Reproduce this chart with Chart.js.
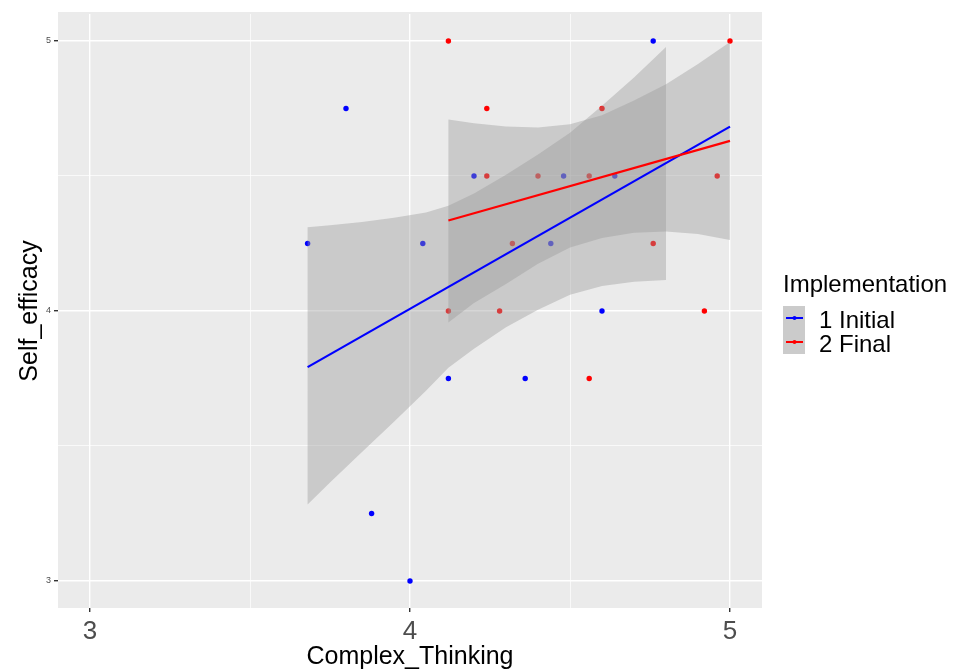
<!DOCTYPE html>
<html>
<head>
<meta charset="utf-8">
<script src="https://cdn.jsdelivr.net/npm/chart.js@4.4.1/dist/chart.umd.min.js"></script>
<style>
  html, body { margin: 0; padding: 0; background: #ffffff; }
  #wrap { width: 967px; height: 670px; position: relative; }
</style>
</head>
<body>
<div id="wrap"><canvas id="chart" width="967" height="670"></canvas></div>
<script>
// scatter points
const initialX = [4.76, 3.8, 4.2, 4.48, 4.64, 3.68, 4.04, 4.44, 4.6, 4.12, 4.36, 3.88, 4.0];
const initialY = [5, 4.75, 4.5, 4.5, 4.5, 4.25, 4.25, 4.25, 4, 3.75, 3.75, 3.25, 3];
const finalX = [4.12, 5.0, 4.24, 4.6, 4.24, 4.4, 4.56, 4.96, 4.32, 4.76, 4.12, 4.28, 4.92, 4.56];
const finalY = [5, 5, 4.75, 4.75, 4.5, 4.5, 4.5, 4.5, 4.25, 4.25, 4, 4, 4, 3.75];

// fitted lines (ends)
const initialFitX = [3.68, 5.0];
const initialFitY = [3.792, 4.683];
const finalFitX = [4.12, 5.0];
const finalFitY = [4.335, 4.63];

// confidence ribbons
const initialBandX = [3.68, 3.75, 3.85, 3.95, 4.05, 4.12, 4.2, 4.3, 4.4, 4.5, 4.6, 4.7, 4.8];
const initialBandHigh = [4.31, 4.318, 4.33, 4.345, 4.365, 4.39, 4.435, 4.505, 4.58, 4.66, 4.76, 4.865, 4.978];
const initialBandLow = [3.283, 3.365, 3.478, 3.59, 3.705, 3.79, 3.86, 3.94, 4.005, 4.06, 4.093, 4.108, 4.115];
const finalBandX = [4.12, 4.2, 4.3, 4.4, 4.5, 4.6, 4.7, 4.8, 4.9, 5.0];
const finalBandHigh = [4.709, 4.695, 4.683, 4.68, 4.692, 4.725, 4.78, 4.84, 4.915, 4.996];
const finalBandLow = [3.957, 4.03, 4.10, 4.175, 4.235, 4.27, 4.29, 4.294, 4.285, 4.263];

const xTicks = [3, 3.5, 4, 4.5, 5];
const yTicks = [3, 3.5, 4, 4.5, 5];
const majorTicks = [3, 4, 5];

const seriesNames = ["1 Initial", "2 Final"];
const seriesColors = ["#0000ff", "#ff0000"];
const legendTitle = "Implementation";

const pts = (xs, ys) => xs.map((x, i) => ({ x: x, y: ys[i] }));
const band = (xs, hi, lo) =>
  pts(xs, hi).concat(pts(xs, lo).reverse());

const isMajor = v => majorTicks.includes(v);
const ribbonFill = "rgba(153,153,153,0.4)";
const fontFamily = "'Liberation Sans', Arial, sans-serif";

const panelBg = {
  id: "panelBg",
  beforeDraw(chart) {
    const a = chart.chartArea, ctx = chart.ctx;
    ctx.save();
    ctx.fillStyle = "#ebebeb";
    ctx.fillRect(a.left, a.top - 2, a.right - a.left, a.bottom - a.top + 2);
    ctx.restore();
  }
};

const ggLegend = {
  id: "ggLegend",
  afterDraw(chart) {
    const ctx = chart.ctx;
    ctx.save();
    ctx.fillStyle = "#000";
    ctx.font = "24px " + fontFamily;
    ctx.textBaseline = "alphabetic";
    ctx.fillText(legendTitle, 783, 292);
    ctx.fillStyle = "#cbcbcb";
    ctx.fillRect(783, 306, 22, 48);
    seriesNames.forEach((name, i) => {
      const y = 318 + i * 24;
      ctx.strokeStyle = seriesColors[i];
      ctx.lineWidth = 2;
      ctx.beginPath();
      ctx.moveTo(786, y);
      ctx.lineTo(803, y);
      ctx.stroke();
      ctx.fillStyle = seriesColors[i];
      ctx.beginPath();
      ctx.arc(794.5, y, 2, 0, Math.PI * 2);
      ctx.fill();
      ctx.fillStyle = "#000";
      ctx.fillText(name, 819, y + 10);
    });
    ctx.restore();
  }
};

const ctx = document.getElementById("chart");

new Chart(ctx, {
  type: "scatter",
  data: {
    datasets: [
      {
        label: seriesNames[0],
        data: pts(initialX, initialY),
        backgroundColor: seriesColors[0],
        borderWidth: 0,
        pointRadius: 2.7,
        order: 5
      },
      {
        label: seriesNames[1],
        data: pts(finalX, finalY),
        backgroundColor: seriesColors[1],
        borderWidth: 0,
        pointRadius: 2.7,
        order: 5
      },
      {
        label: "band initial",
        data: band(initialBandX, initialBandHigh, initialBandLow),
        showLine: true,
        fill: "shape",
        backgroundColor: ribbonFill,
        borderWidth: 0,
        borderColor: "rgba(0,0,0,0)",
        pointRadius: 0,
        order: 4
      },
      {
        label: "band final",
        data: band(finalBandX, finalBandHigh, finalBandLow),
        showLine: true,
        fill: "shape",
        backgroundColor: ribbonFill,
        borderWidth: 0,
        borderColor: "rgba(0,0,0,0)",
        pointRadius: 0,
        order: 3
      },
      {
        label: "fit initial",
        data: pts(initialFitX, initialFitY),
        showLine: true,
        borderColor: seriesColors[0],
        borderWidth: 2.2,
        pointRadius: 0,
        order: 2
      },
      {
        label: "fit final",
        data: pts(finalFitX, finalFitY),
        showLine: true,
        borderColor: seriesColors[1],
        borderWidth: 2.2,
        pointRadius: 0,
        order: 1
      }
    ]
  },
  options: {
    responsive: false,
    animation: false,
    layout: { padding: { top: 14, right: 205, left: 0, bottom: 0 } },
    plugins: {
      legend: { display: false },
      tooltip: { enabled: false }
    },
    scales: {
      x: {
        type: "linear",
        min: 2.9,
        max: 5.1,
        afterBuildTicks: s => { s.ticks = xTicks.map(v => ({ value: v })); },
        afterFit: s => { s.height = 62; },
        border: { display: false },
        grid: {
          color: "#ffffff",
          lineWidth: c => isMajor(c.tick.value) ? 1.4 : 0.7,
          tickColor: c => isMajor(c.tick.value) ? "#333333" : "rgba(0,0,0,0)",
          tickLength: 4
        },
        ticks: {
          color: "#4d4d4d",
          padding: 4,
          maxRotation: 0,
          font: { family: fontFamily, size: 26 },
          callback: v => isMajor(v) ? String(v) : ""
        },
        title: {
          display: true,
          text: "Complex_Thinking",
          color: "#000",
          font: { family: fontFamily, size: 25, lineHeight: 1 },
          padding: { top: 0, bottom: 0 }
        }
      },
      y: {
        type: "linear",
        min: 2.9,
        max: 5.1,
        afterBuildTicks: s => { s.ticks = yTicks.map(v => ({ value: v })); },
        afterFit: s => { s.width = 58; },
        border: { display: false },
        grid: {
          color: "#ffffff",
          lineWidth: c => isMajor(c.tick.value) ? 1.4 : 0.7,
          tickColor: c => isMajor(c.tick.value) ? "#333333" : "rgba(0,0,0,0)",
          tickLength: 4
        },
        ticks: {
          color: "#4d4d4d",
          padding: 3,
          font: { family: fontFamily, size: 9 },
          callback: v => isMajor(v) ? String(v) : ""
        },
        title: {
          display: true,
          text: "Self_efficacy",
          color: "#000",
          font: { family: fontFamily, size: 25, lineHeight: 1 },
          padding: { top: 17.5, bottom: 0 }
        }
      }
    }
  },
  plugins: [panelBg, ggLegend]
});
</script>
</body>
</html>
